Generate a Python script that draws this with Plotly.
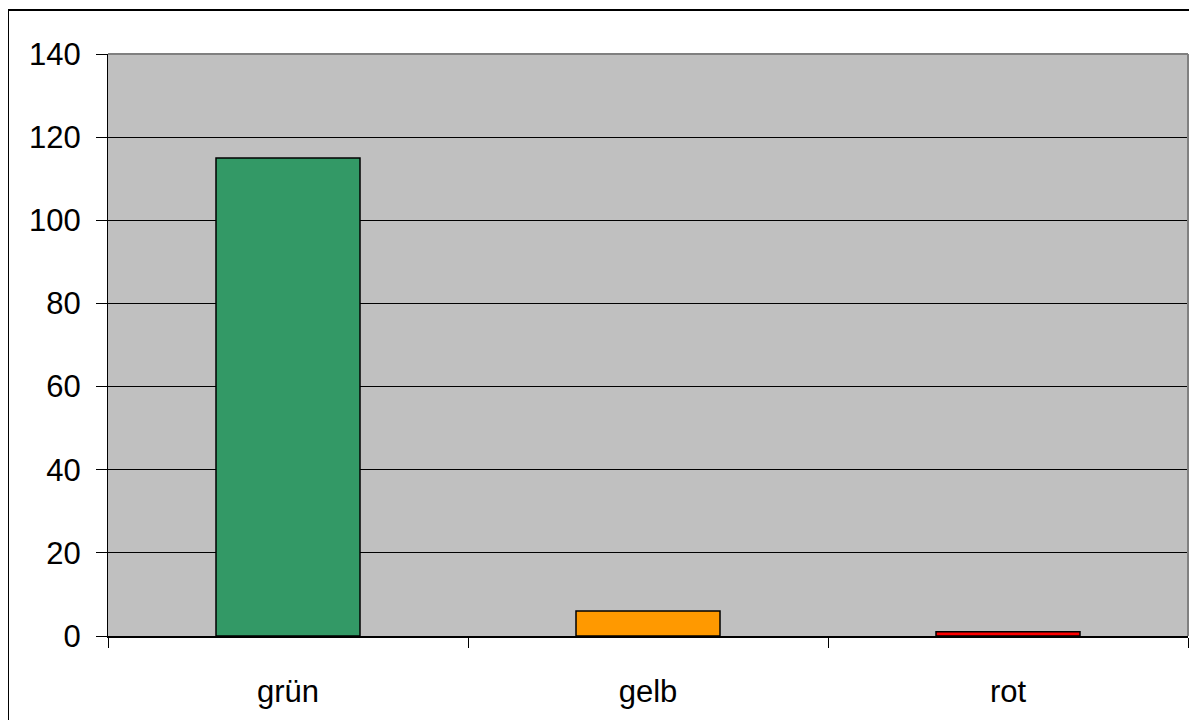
import plotly.graph_objects as go

categories = ["grün", "gelb", "rot"]
values = [115, 6, 1]
bar_colors = ["#339966", "#FF9900", "#FF0000"]
y_ticks = [0, 20, 40, 60, 80, 100, 120, 140]

fig = go.Figure()
fig.add_trace(go.Bar(
    x=categories, y=values,
    marker=dict(color=bar_colors, line=dict(color="#000000", width=1.5)),
    width=0.4,
))

# page is offset by 8px body margin; work in figure coordinates
OFF = 8
W, H = 1197 - OFF, 720 - OFF
L, R, T, B = 108 - OFF, 1188 - OFF, 54 - OFF, 636 - OFF
def px(x):
    return (x - OFF - L) / (R - L)
def py(y):
    return (B - (y - OFF)) / (B - T)

fig.update_layout(
    width=W, height=H,
    margin=dict(l=L, r=W - R, t=T, b=H - B, pad=0),
    paper_bgcolor="white",
    plot_bgcolor="#C0C0C0",
    showlegend=False,
    font=dict(family="Liberation Sans, Arial, sans-serif", size=31, color="black"),
    xaxis=dict(
        showgrid=False, showline=True, linecolor="black", linewidth=1.5,
        ticks="outside", ticklen=10, tickcolor="black", tickwidth=1,
        tickson="boundaries", ticklabelstandoff=27,
        tickfont=dict(size=31),
    ),
    yaxis=dict(
        range=[0, 140], tickvals=y_ticks,
        showgrid=True, gridcolor="black", gridwidth=1,
        showline=True, linecolor="black", linewidth=1,
        ticks="outside", ticklen=11, tickcolor="black", tickwidth=1,
        ticklabelstandoff=9, zeroline=False,
        tickfont=dict(size=31),
    ),
    shapes=[
        dict(type="line", xref="paper", yref="paper", x0=0, x1=1, y0=1, y1=1,
             line=dict(color="#808080", width=2), layer="above"),
        dict(type="line", xref="paper", yref="paper", x0=1, x1=1, y0=0, y1=1,
             line=dict(color="#808080", width=2), layer="above"),
        dict(type="rect", xref="paper", yref="paper",
             x0=px(8), x1=px(1215), y0=py(740), y1=py(10),
             line=dict(color="black", width=2), layer="above"),
    ],
)

fig.write_html("out.html")
